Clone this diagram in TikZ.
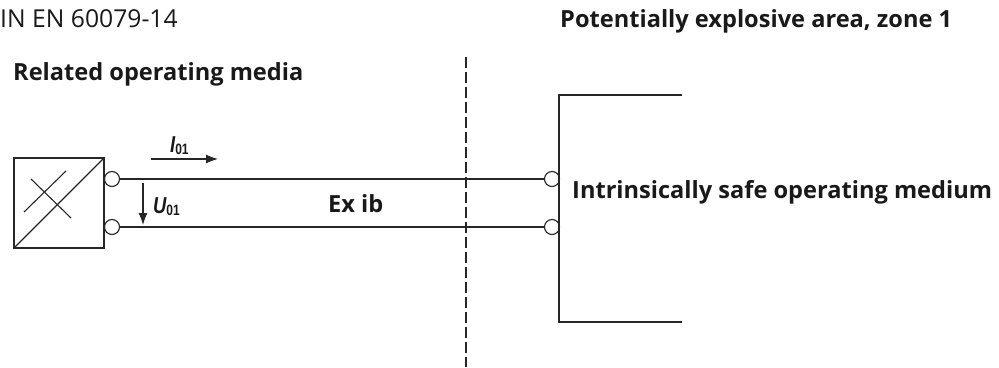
\documentclass[tikz,border=0pt]{standalone}
\usepackage{graphicx}
\usepackage{fontspec}
\setmainfont{Open Sans}
\newfontfamily\labelfont{Liberation Sans}
\usetikzlibrary{positioning, calc, arrows.meta}
\tikzset{
	Wire/.style = {line width = 1.1pt, draw = black!85},
	Arrow/.style = {Wire, -{Latex[length = 12pt, width = 9pt]}},
}
\newcommand{\Quantity}[1]{\scalebox{0.8}[1]{\itshape #1\raisebox{-2pt}{\fontsize{15}{17}\selectfont\upshape 01}}}

\begin{document}
\begin{tikzpicture}[
		x = 1pt, y = -1pt,
		terminal/.style = {circle, Wire, fill = white, inner sep = 0pt, minimum size = 15pt},
		converter/.style = {rectangle, line width = 1.3pt, draw = black!85, inner sep = 0pt, minimum size = 90pt},
		heading/.style = {anchor = base west, inner sep = 0pt, font = \fontsize{23.6}{28}\selectfont\bfseries, text = black!90},
		plain/.style = {anchor = base west, inner sep = 0pt, font = \fontsize{24.7}{29}\selectfont, text = black!90},
		quantity/.style = {anchor = base west, inner sep = 0pt, font = \labelfont\fontsize{23}{26}\selectfont\bfseries, text = black!90},
	]
	\useasboundingbox (0,0) rectangle (999,367);

	\node[plain](norm) at (0,27){IN EN 60079-14};
	\node[heading](zone) at (560,27){Potentially explosive area, zone 1};
	\node[heading](media) at (13,80){Related operating media};

	\node[converter](box) at (59,203){};
	\node[terminal](TL) at (112,179){};
	\node[terminal](BL) at (112,227){};
	\node[terminal](TR) at (552,179){};
	\node[terminal](BR) at (552,227){};

	\coordinate(casetop) at (682,95);
	\coordinate(casecorner) at (559,95);
	\coordinate(casebottom) at (559,322);
	\coordinate(caseend) at (682,322);
	\coordinate(bordertop) at (466,57);
	\coordinate(borderbottom) at (466,367);
	\coordinate(crossA) at (24,212);
	\coordinate(crossB) at (66,171);
	\coordinate(crossC) at (31,179);
	\coordinate(crossD) at (71,218);
	\coordinate(currentA) at (151,159);
	\coordinate(currentB) at (218,159);
	\coordinate(voltageA) at (143,183);
	\coordinate(voltageB) at (143,225);

	\draw[Wire](box.south west)--(box.north east);
	\draw[Wire](crossA)--(crossB);
	\draw[Wire](crossC)--(crossD);
	\draw[Wire](TL)--(TR);
	\draw[Wire](BL)--(BR);
	\draw[Wire, line width = 1.3pt](casetop)--(casecorner)--(casebottom)--(caseend);
	\draw[Wire, line width = 1.3pt, dash pattern = on 11pt off 4pt](bordertop)--(borderbottom);
	\draw[Arrow](currentA)--(currentB);
	\draw[Arrow](voltageA)--(voltageB);

	\node[quantity](current) at (170,152){\Quantity{I}};
	\node[quantity](voltage) at (153,213){\Quantity{U}};
	\node[heading](ex) at (328,212){Ex ib};
	\node[heading](medium) at (572,198){Intrinsically safe operating medium};
\end{tikzpicture}
\end{document}
